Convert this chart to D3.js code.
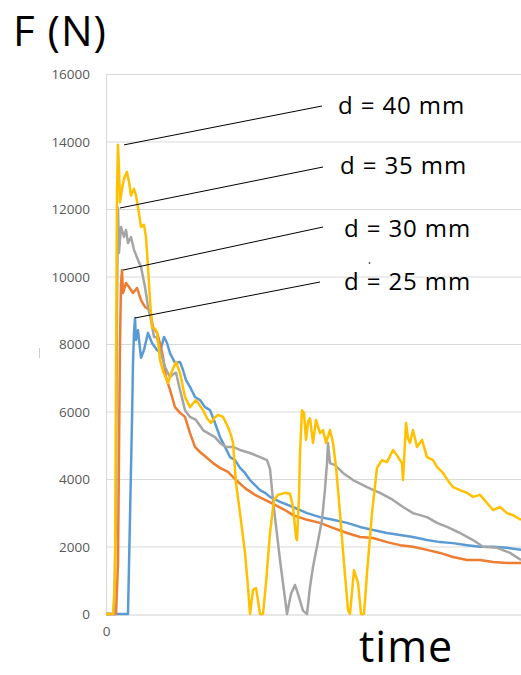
<!DOCTYPE html>
<html>
<head>
<meta charset="utf-8">
<script src="https://cdn.jsdelivr.net/npm/d3@7"></script>
<style>
  body { margin: 0; background: #fff; }
  svg { display: block; font-family: "Open Sans", sans-serif; }
</style>
</head>
<body>
<div id="chart"></div>
<script>
// force readings, [time, F (N)], time in arbitrary units
const d25 = [[0,0],[22,0],[24,2870],[26,5750],[27,7430],[28,8330],[29,8770],[30,8120],[32,8410],[35,7590],[38,7820],[42,8330],[46,8030],[51,7820],[54,7750],[58,8210],[61,8030],[64,7730],[69,7440],[74,7470],[77,7230],[80,6930],[84,6730],[89,6430],[94,6340],[99,6130],[104,6040],[109,5660],[114,5240],[119,4950],[124,4650],[129,4560],[134,4330],[139,4180],[144,3970],[149,3820],[154,3670],[159,3590],[164,3470],[174,3320],[187,3170],[201,2990],[214,2870],[227,2790],[241,2700],[254,2580],[267,2490],[281,2400],[294,2340],[307,2280],[321,2190],[334,2130],[347,2100],[361,2040],[374,1990],[387,1990],[401,1960],[415,1900]]

const d30 = [[0,0],[10,0],[12,1510],[13,4800],[14,8000],[15,9800],[16,10190],[17,9510],[20,9810],[23,9690],[27,9510],[31,9660],[35,9300],[39,9100],[44,9000],[47,8500],[51,8330],[54,8030],[57,7620],[60,7020],[64,6640],[69,6130],[74,5960],[79,5840],[84,5360],[89,4950],[94,4800],[100,4650],[107,4470],[114,4330],[122,4210],[130,3970],[139,3730],[149,3530],[159,3380],[169,3230],[179,3080],[187,2930],[201,2790],[214,2700],[227,2550],[241,2400],[254,2280],[267,2250],[281,2130],[294,2040],[307,1990],[321,1900],[334,1810],[347,1690],[361,1600],[374,1600],[387,1540],[401,1510],[415,1510]]

const d35 = [[0,0],[8,0],[10,3000],[11,9000],[12,12030],[13,10700],[15,11470],[18,11170],[20,11380],[22,10990],[25,11170],[28,10790],[32,10490],[35,10280],[39,9690],[42,9100],[45,8710],[48,8210],[51,8200],[54,7820],[59,7320],[64,7020],[67,7100],[70,7150],[74,6640],[79,6040],[84,5840],[90,5750],[97,5450],[102,5360],[109,5240],[114,5070],[120,4950],[127,4950],[134,4860],[144,4770],[154,4650],[161,4560],[164,4300],[167,3380],[174,1600],[181,0],[185,600],[189,860],[193,500],[197,100],[201,0],[204,800],[207,1390],[211,2000],[216,2790],[219,3700],[221,4470],[222,5070],[224,4470],[229,4410],[237,4180],[247,3970],[261,3760],[274,3590],[287,3380],[297,3170],[307,2990],[321,2870],[331,2700],[341,2580],[354,2400],[367,2190],[377,1990],[391,1960],[404,1810],[415,1600]]

const d40 = [[0,0],[7,0],[9,1000],[10,7000],[11,12500],[12,13900],[13,13200],[14,12200],[16,12600],[18,12900],[21,13100],[23,12800],[25,12400],[28,12600],[30,12400],[32,12060],[35,11470],[38,11530],[40,11170],[42,10280],[44,9300],[46,8500],[49,8450],[51,8360],[54,7530],[57,7200],[60,6990],[62,6840],[66,7200],[70,7470],[74,7140],[79,6430],[84,6130],[90,6340],[97,6040],[101,5800],[105,5660],[108,5800],[112,5900],[117,5840],[122,5540],[125,5300],[127,5070],[130,3880],[134,2990],[139,1810],[142,800],[144,0],[147,710],[150,770],[152,400],[154,0],[157,0],[160,920],[164,2400],[168,3380],[172,3530],[179,3590],[184,3560],[187,3170],[190,2280],[191,2190],[193,3500],[194,4770],[196,6040],[198,5960],[200,5160],[202,5700],[204,5800],[207,5070],[210,5750],[214,5360],[217,5450],[220,5070],[224,5450],[227,5070],[230,4360],[234,2990],[238,1510],[242,120],[244,0],[248,1300],[252,920],[255,0],[258,0],[261,1210],[266,2990],[271,4330],[276,4560],[281,4500],[287,4860],[291,4700],[296,4470],[297,3970],[300,5660],[302,5200],[304,5070],[307,5450],[311,4950],[316,5160],[321,4650],[327,4560],[331,4360],[337,4180],[342,3950],[347,3760],[354,3670],[361,3590],[367,3470],[374,3530],[381,3290],[387,3080],[394,3170],[401,2990],[407,2930],[415,2790]]

const seriesNames = ["d = 25 mm", "d = 30 mm", "d = 35 mm", "d = 40 mm"]
const seriesData = [d25, d30, d35, d40]
const seriesColors = ["#5B9BD5", "#ED7D31", "#A5A5A5", "#FFC000"]
const yTicks = [0, 2000, 4000, 6000, 8000, 10000, 12000, 14000, 16000]
const xTicks = [0]

// annotation anchor points on the curves, [time, F]
const anchors = [[29, 8770], [17, 10190], [14, 12030], [18, 13900]]

const width = 521
const height = 675
const margin = { top: 74, right: 0, bottom: 61, left: 106 }

// where the leader line ends and the label sits
const labelSpots = [
    { lx: 320, ly: 282, tx: 344, ty: 290 },
    { lx: 323, ly: 227, tx: 344, ty: 237 },
    { lx: 323, ly: 167, tx: 340, ty: 174 },
    { lx: 322, ly: 106, tx: 338, ty: 114 }
]

const svg = d3.select("#chart").append("svg")
    .attr("width", width)
    .attr("height", height)

const x = d3.scaleLinear()
    .domain([0, 415])
    .range([margin.left, width - margin.right])

const y = d3.scaleLinear()
    .domain([0, 16000])
    .range([height - margin.bottom, margin.top])

// gridlines
svg.append("g")
    .selectAll("line")
    .data(yTicks.slice(1))
    .join("line")
    .attr("x1", x(0))
    .attr("x2", x(415))
    .attr("y1", d => y(d) + 0.5)
    .attr("y2", d => y(d) + 0.5)
    .attr("stroke", "#D9D9D9")
    .attr("stroke-width", 1)

// left edge of the plot area
svg.append("line")
    .attr("x1", x(0) + 0.5)
    .attr("x2", x(0) + 0.5)
    .attr("y1", y(16000))
    .attr("y2", y(0))
    .attr("stroke", "#D9D9D9")

const yAxis = svg.append("g")
    .attr("transform", "translate(" + (margin.left - 16) + ",0)")
    .call(d3.axisLeft(y).tickValues(yTicks).tickFormat(d3.format("d")).tickSize(0).tickPadding(0))
yAxis.select(".domain").remove()
yAxis.selectAll("text")
    .attr("font-family", "Open Sans, sans-serif")
    .attr("font-size", 13.5)
    .attr("fill", "#595959")
    .attr("dy", "0.36em")

const xAxis = svg.append("g")
    .attr("transform", "translate(0," + (y(0) + 0.5) + ")")
    .call(d3.axisBottom(x).tickValues(xTicks).tickFormat(d3.format("d")).tickSize(0).tickPadding(12))
xAxis.select(".domain")
    .attr("stroke", "#D0D0D0")
xAxis.selectAll("text")
    .attr("font-family", "Open Sans, sans-serif")
    .attr("font-size", 13.5)
    .attr("fill", "#595959")

const line = d3.line()
    .x(d => x(d[0]))
    .y(d => y(d[1]))

svg.append("g")
    .selectAll("path")
    .data(seriesData)
    .join("path")
    .attr("d", line)
    .attr("fill", "none")
    .attr("stroke", (d, i) => seriesColors[i])
    .attr("stroke-width", 2.5)
    .attr("stroke-linejoin", "round")

// leader lines and labels
const notes = svg.append("g")
notes.selectAll("line")
    .data(anchors)
    .join("line")
    .attr("x1", d => x(d[0]))
    .attr("y1", d => y(d[1]))
    .attr("x2", (d, i) => labelSpots[i].lx)
    .attr("y2", (d, i) => labelSpots[i].ly)
    .attr("stroke", "#000")
    .attr("stroke-width", 1)

notes.selectAll("text")
    .data(seriesNames)
    .join("text")
    .attr("x", (d, i) => labelSpots[i].tx)
    .attr("y", (d, i) => labelSpots[i].ty)
    .attr("font-size", 24)
    .attr("letter-spacing", 0.9)
    .attr("fill", "#000")
    .text(d => d)

// stray dot above the lowest label
svg.append("circle")
    .attr("cx", 369.5)
    .attr("cy", 263)
    .attr("r", 0.9)
    .attr("fill", "#555")

// small stray mark at the left edge
svg.append("line")
    .attr("x1", 39.5).attr("x2", 39.5)
    .attr("y1", 348).attr("y2", 358)
    .attr("stroke", "#ccc")

// big axis titles, kept inside the page box
svg.append("text")
    .attr("x", 13)
    .attr("y", 45.5)
    .attr("font-size", 42)
    .attr("letter-spacing", 1)
    .attr("fill", "#000")
    .text("F (N)")

svg.append("text")
    .attr("x", 359)
    .attr("y", 662)
    .attr("font-size", 43)
    .attr("letter-spacing", 1)
    .attr("fill", "#000")
    .text("time")
</script>
</body>
</html>
